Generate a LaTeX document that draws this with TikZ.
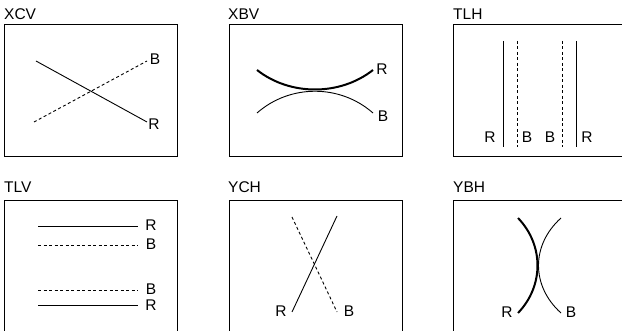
\documentclass[tikz,border=0pt]{standalone}
\usepackage{fontspec}
\setmainfont{Liberation Sans}
\begin{document}
\begin{tikzpicture}[x=1pt,y=-1pt,
  panel/.style={draw=black,line width=1pt},
  ttl/.style={inner sep=0pt,anchor=base west,font=\fontsize{15.5}{18}\selectfont},
  lbl/.style={inner sep=0pt,anchor=base,font=\fontsize{15.5}{18}\selectfont},
  thinl/.style={line width=0.9pt},
  thickl/.style={line width=2pt},
  dsh/.style={line width=0.9pt,dash pattern=on 3pt off 2.5pt}]
\useasboundingbox (0,0) rectangle (622,331);
\clip (0,0) rectangle (622,331);
\fill[white] (0,0) rectangle (622,331);
% titles
\node[ttl] (t1) at (4,20) {XCV};
\node[ttl] (t2) at (228,20) {XBV};
\node[ttl] (t3) at (453,20) {TLH};
\node[ttl] (t4) at (4,193) {TLV};
\node[ttl] (t5) at (228,193) {YCH};
\node[ttl] (t6) at (453,193) {YBH};
% panels
\draw[panel] (4,25) rectangle (177,156.5);
\draw[panel] (229,25) rectangle (402,156.5);
\draw[panel] (453,25) rectangle (630,156.5);
\draw[panel] (4,200.5) rectangle (177,340);
\draw[panel] (229,200.5) rectangle (402,340);
\draw[panel] (453,200.5) rectangle (630,340);
% XCV
\coordinate (a1) at (36,61); \coordinate (a2) at (147,122);
\coordinate (b1) at (34,122); \coordinate (b2) at (147,61);
\draw[thinl] (a1) -- (a2);
\draw[dsh] (b1) -- (b2);
\node[lbl] (xcvB) at (155,65) {B};
\node[lbl] (xcvR) at (154,130) {R};
% XBV
\coordinate (c1) at (257,70); \coordinate (c2) at (373,70);
\coordinate (d1) at (257,113); \coordinate (d2) at (373,113);
\draw[thickl] (c1) .. controls (290,96) and (340,96) .. (c2);
\draw[thinl] (d1) .. controls (290,84) and (340,84) .. (d2);
\node[lbl] (xbvR) at (382,75) {R};
\node[lbl] (xbvB) at (383,122) {B};
% TLH
\coordinate (e1) at (503,41); \coordinate (e2) at (503,147);
\coordinate (f1) at (517,41); \coordinate (f2) at (517,147);
\coordinate (g1) at (562,41); \coordinate (g2) at (562,147);
\coordinate (h1) at (576,41); \coordinate (h2) at (576,147);
\draw[thinl] (e1) -- (e2);
\draw[dsh] (f1) -- (f2);
\draw[dsh] (g1) -- (g2);
\draw[thinl] (h1) -- (h2);
\node[lbl] (tlhR1) at (490,143) {R};
\node[lbl] (tlhB1) at (527,143) {B};
\node[lbl] (tlhB2) at (550,143) {B};
\node[lbl] (tlhR2) at (587,143) {R};
% TLV
\coordinate (i1) at (38,226.7); \coordinate (i2) at (138,226.7);
\coordinate (j1) at (38,245); \coordinate (j2) at (138,245);
\coordinate (k1) at (38,290); \coordinate (k2) at (138,290);
\coordinate (l1) at (38,305.7); \coordinate (l2) at (138,305.7);
\draw[thinl] (i1) -- (i2);
\draw[dsh] (j1) -- (j2);
\draw[dsh] (k1) -- (k2);
\draw[thinl] (l1) -- (l2);
\node[lbl] (tlvR1) at (151,231) {R};
\node[lbl] (tlvB1) at (151,250) {B};
\node[lbl] (tlvB2) at (151,294.5) {B};
\node[lbl] (tlvR2) at (151,310.5) {R};
% YCH
\coordinate (m1) at (292,217); \coordinate (m2) at (337,312);
\coordinate (n1) at (337,216); \coordinate (n2) at (292,312);
\draw[dsh] (m1) -- (m2);
\draw[thinl] (n1) -- (n2);
\node[lbl] (ychR) at (281,317) {R};
\node[lbl] (ychB) at (349,317) {B};
% YBH
\coordinate (o1) at (518,218); \coordinate (o2) at (518,313);
\coordinate (p1) at (561,218); \coordinate (p2) at (561,313);
\draw[thickl] (o1) .. controls (544,245) and (544,286) .. (o2);
\draw[thinl] (p1) .. controls (531,245) and (531,286) .. (p2);
\node[lbl] (ybhR) at (507,318) {R};
\node[lbl] (ybhB) at (571,318) {B};
\end{tikzpicture}
\end{document}
